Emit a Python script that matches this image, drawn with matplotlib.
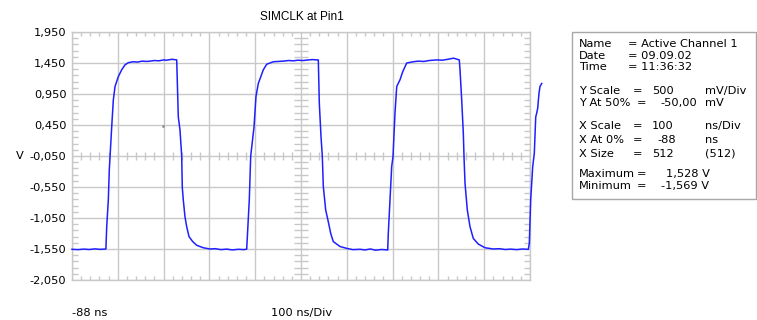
import numpy as np
import matplotlib
matplotlib.use("Agg")
import matplotlib.pyplot as plt
from matplotlib.patches import Rectangle
from matplotlib.ticker import FixedLocator, FuncFormatter, NullFormatter

plt.rcParams['font.family'] = ['DejaVu Sans']

# trace: time in ns, level in V
t_ns = [-88, -75, -62, -50, -38, -26, -14,
        -12.2, -8.7, -6.6, -1.3, 2.2, 5.9, 13.1, 20.5, 27.7, 34.9, 45.2, 55, 65, 75,
        82.3, 92, 102, 112, 118.8, 130, 140.6,
        144.1, 147.8, 151.5, 152.8, 155.0, 158.7, 162.4, 167.5, 175.5, 184.3, 198.7,
        213.3, 225, 237, 250, 262, 275, 287, 293.4,
        294.8, 299.1, 302.2, 309.4, 313.7, 318.8, 329.7, 337.1, 348.0, 351.5,
        362, 373, 385, 395.2, 405, 417, 428, 438, 446.3, 449.8,
        452.0, 455.7, 458.5, 460.7, 465.9, 471.6, 476.9, 482.5, 497.2, 511.8, 525,
        540.8, 552, 563, 575, 588, 601.3,
        602.6, 606.3, 610.0, 612.9, 617.2, 621.0, 628.2, 634.1, 642.8, 657.2, 668,
        680, 692, 708.3, 720, 733, 745, 757.6,
        759.2, 762.9, 766.4, 767.9, 770.1, 775.1, 781.0, 788.2, 799.1, 813.8, 831.9,
        845, 858, 870, 883, 896, 908.3,
        910.5, 913.5, 917.9, 921.4, 924.5, 926.6, 928.8, 931.6, 933.8, 937.6]
volts = [-1.555, -1.560, -1.552, -1.558, -1.548, -1.556, -1.550,
         -1.19, -0.76, -0.28, 0.42, 0.85, 1.07, 1.23, 1.34, 1.42, 1.455, 1.47, 1.465, 1.48, 1.475,
         1.48, 1.49, 1.485, 1.50, 1.495, 1.51, 1.50,
         0.58, 0.37, -0.05, -0.555, -0.76, -1.03, -1.19, -1.35, -1.43, -1.49, -1.53,
         -1.55, -1.545, -1.560, -1.552, -1.565, -1.555, -1.560, -1.553,
         -1.35, -0.76, -0.05, 0.42, 0.91, 1.12, 1.34, 1.43, 1.46, 1.47,
         1.475, 1.48, 1.49, 1.485, 1.495, 1.49, 1.50, 1.505, 1.50, 1.50,
         0.80, 0.26, -0.05, -0.54, -0.92, -1.11, -1.30, -1.43, -1.51, -1.54, -1.560,
         -1.555, -1.565, -1.550, -1.569, -1.558, -1.566,
         -1.30, -0.76, -0.22, -0.06, 0.64, 1.07, 1.18, 1.31, 1.45, 1.47, 1.48,
         1.475, 1.49, 1.50, 1.495, 1.51, 1.528, 1.50,
         1.34, 0.85, 0.32, -0.06, -0.49, -0.92, -1.19, -1.38, -1.47, -1.53, -1.55,
         -1.545, -1.558, -1.552, -1.560, -1.550, -1.556,
         -1.46, -0.76, -0.22, -0.01, 0.58, 0.64, 0.72, 0.96, 1.07, 1.12]

stray_t = [111]
stray_v = [0.43]

x_start, x_div, n_xdiv = -88, 100, 10
y_start, y_div, n_ydiv = -2.05, 0.5, 8

title = "SIMCLK at Pin1"
info_rows = [
    [("Name", 579), ("= Active Channel 1", 628)],
    [("Date", 579), ("= 09.09.02", 628)],
    [("Time", 579), ("= 11:36:32", 628)],
    [("Y Scale", 579), ("=", 633), ("500", 652), ("mV/Div", 705)],
    [("Y At 50%", 579), ("=", 637), ("-50,00", 660), ("mV", 705)],
    [("X Scale", 579), ("=", 633), ("100", 652), ("ns/Div", 705)],
    [("X At 0%", 579), ("=", 633), ("-88", 657), ("ns", 705)],
    [("X Size", 579), ("=", 633), ("512", 652), ("(512)", 705)],
    [("Maximum", 579), ("=", 637), ("1,528 V", 666)],
    [("Minimum", 579), ("=", 637), ("-1,569 V", 661)],
]
info_y = [44, 56, 67, 91, 103, 126, 140, 154, 174, 186]

W, H = 757, 320
fig = plt.figure(figsize=(W / 100, H / 100), dpi=100)
fig.patch.set_facecolor("white")
ax = fig.add_axes([72 / W, 1 - 280 / H, 458 / W, 248 / H])

grid_c = "#c8c8c8"
fs = 8.2
x_end = x_start + x_div * n_xdiv
y_end = y_start + y_div * n_ydiv
ax.set_xlim(x_start, x_end)
ax.set_ylim(y_start, y_end)

xmaj = x_start + x_div * np.arange(n_xdiv + 1)
ymaj = y_start + y_div * np.arange(n_ydiv + 1)
xmin = x_start + x_div / 5 * np.arange(n_xdiv * 5 + 1)
ymin = y_start + y_div / 5 * np.arange(n_ydiv * 5 + 1)
ax.xaxis.set_major_locator(FixedLocator(xmaj))
ax.yaxis.set_major_locator(FixedLocator(ymaj))
ax.xaxis.set_minor_locator(FixedLocator(xmin))
ax.yaxis.set_minor_locator(FixedLocator(ymin))
ax.xaxis.set_major_formatter(NullFormatter())
ax.yaxis.set_major_formatter(FuncFormatter(lambda v, p: f"{v:.3f}".replace(".", ",")))
ax.grid(True, which="major", color=grid_c, lw=1.0)
ax.set_axisbelow(True)
ax.tick_params(which="major", length=0, pad=4, labelsize=fs, colors="black")
ax.tick_params(axis="x", which="minor", direction="in", length=3, width=1,
               color=grid_c, top=True, bottom=True)
ax.tick_params(axis="y", which="minor", direction="in", length=4.3, width=1,
               color=grid_c, left=True, right=True)
for s in ax.spines.values():
    s.set_color(grid_c)
    s.set_linewidth(1.0)

# cross-hair ticks on the centre lines
xc = x_start + x_div * n_xdiv / 2
yc = y_start + y_div * n_ydiv / 2
ax.plot(xmin, np.full_like(xmin, yc), ls="none", marker="|", ms=6, mew=1, color=grid_c, zorder=1)
ax.plot(np.full_like(ymin, xc), ymin, ls="none", marker="_", ms=9.4, mew=1, color=grid_c, zorder=1)

ax.plot(t_ns, volts, color="#1f1fff", lw=1.1, clip_on=False, zorder=3)
ax.plot(stray_t, stray_v, ls="none", marker="s", ms=0.9, color="#909090", zorder=3)

fig.text(302 / W, 1 - 17 / H, title, ha="center", va="center", fontsize=8.5,
         family="Liberation Sans")
fig.text(20 / W, 1 - 156 / H, "V", ha="center", va="center", fontsize=fs)
fig.text(72 / W, 1 - 313 / H, f"{x_start} ns", ha="left", va="center", fontsize=fs)
fig.text(302 / W, 1 - 313 / H, f"{x_div} ns/Div", ha="center", va="center", fontsize=fs)

fig.patches.append(Rectangle((572 / W, 1 - 199 / H), 184 / W, 167 / H,
                             transform=fig.transFigure, fill=False,
                             edgecolor="#a8a8a8", lw=1.0))
for row, y in zip(info_rows, info_y):
    for txt, x in row:
        fig.text(x / W, 1 - y / H, txt, ha="left", va="center", fontsize=fs)

fig.savefig("out.png", dpi=100)
